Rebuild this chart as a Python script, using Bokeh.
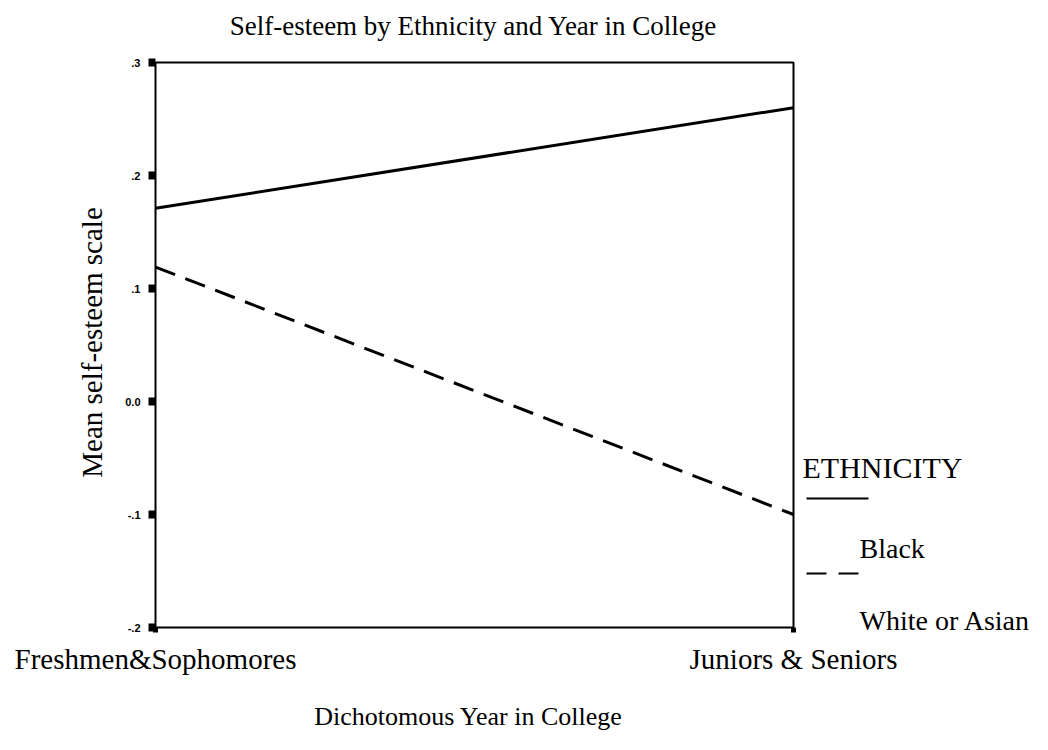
import math
from bokeh.plotting import figure
from bokeh.models import Range1d, FixedTicker, Label, Arrow, BoxAnnotation
from bokeh.embed import file_html
from bokeh.resources import INLINE

# ---- data ----
categories = ["Freshmen&Sophomores", "Juniors & Seniors"]
black = [0.171, 0.260]
white_asian = [0.119, -0.100]
y_ticks = [-0.2, -0.1, 0.0, 0.1, 0.2, 0.3]
y_tick_labels = ["-.2", "-.1", "0.0", ".1", ".2", ".3"]
series_names = ["Black", "White or Asian"]
legend_title = "ETHNICITY"
x_title = "Dichotomous Year in College"
y_title = "Mean self-esteem scale"
chart_title = "Self-esteem by Ethnicity and Year in College"

SERIF = "Liberation Serif"
SANS = "Liberation Sans"

xs = list(range(len(categories)))

# pixel helpers (layout only): the plotted box spans x 155..793, y .3 at 62 and -.2 at 627
FRAME_L, FRAME_R_BOX = 155, 793
Y0_PX, PX_PER_TENTH = 401, 113.0
W, H = 1032, 734

def px_to_x(px):
    return (px - FRAME_L) / float(FRAME_R_BOX - FRAME_L) * (len(categories) - 1)

def py_to_y(py):
    return (Y0_PX - py) / (PX_PER_TENTH * 10)

p = figure(width=W, height=H, output_backend="svg", toolbar_location=None, title=None,
           x_range=Range1d(px_to_x(0), px_to_x(W)), y_range=Range1d(py_to_y(H), py_to_y(0)),
           min_border_left=0, min_border_right=0, min_border_top=0, min_border_bottom=0,
           background_fill_color="white", border_fill_color="white")

p.outline_line_color = None
p.xgrid.visible = False
p.ygrid.visible = False

# box around the plotted area
p.add_layout(BoxAnnotation(left=0, right=len(categories) - 1, bottom=y_ticks[0], top=y_ticks[-1],
                           fill_alpha=0, line_color="black", line_alpha=1.0, line_width=2))

# y axis, drawn on the left edge of the box
ya = p.yaxis[0]
ya.fixed_location = 0
ya.ticker = FixedTicker(ticks=y_ticks)
ya.major_label_overrides = {t: l for t, l in zip(y_ticks, y_tick_labels)}
ya.major_tick_in = 0
ya.major_tick_out = 7
ya.major_tick_line_width = 8
ya.major_tick_line_color = "black"
ya.minor_tick_line_color = None
ya.axis_line_color = None
ya.major_label_text_font = SANS
ya.major_label_text_font_style = "bold"
ya.major_label_text_font_size = "11px"
ya.major_label_text_color = "black"
ya.major_label_standoff = 8

# x axis, drawn at the bottom of the box
xa = p.xaxis[0]
xa.fixed_location = y_ticks[0]
xa.ticker = FixedTicker(ticks=xs)
xa.major_label_overrides = {i: c for i, c in zip(xs, categories)}
xa.major_tick_in = 0
xa.major_tick_out = 5
xa.major_tick_line_width = 5
xa.major_tick_line_color = "black"
xa.minor_tick_line_color = None
xa.axis_line_color = None
xa.major_label_text_font = SERIF
xa.major_label_text_font_size = "29px"
xa.major_label_text_color = "black"
xa.major_label_standoff = 10

# titles
p.add_layout(Label(x=px_to_x(473), y=py_to_y(25), text=chart_title, text_align="center",
                   text_baseline="middle", text_font=SERIF, text_font_size="27px",
                   text_color="black"))
p.add_layout(Label(x=px_to_x(468), y=py_to_y(716), text=x_title, text_align="center",
                   text_baseline="middle", text_font=SERIF, text_font_size="26px",
                   text_color="black"))
p.add_layout(Label(x=px_to_x(91), y=py_to_y(342), text=y_title, text_align="center",
                   text_baseline="middle", angle=math.pi / 2, text_font=SERIF,
                   text_font_size="29px", text_color="black"))

# data lines
p.line(xs, black, line_color="black", line_width=3)
p.line(xs, white_asian, line_color="black", line_width=3, line_dash="21 11")

# custom legend (right of the box)
p.add_layout(Label(x=px_to_x(802), y=py_to_y(467), text=legend_title,
                   text_font=SERIF, text_font_size="30px", text_baseline="middle",
                   text_color="black"))
p.add_layout(Label(x=px_to_x(859), y=py_to_y(548), text=series_names[0],
                   text_font=SERIF, text_font_size="28px", text_baseline="middle",
                   text_color="black"))
p.add_layout(Label(x=px_to_x(859), y=py_to_y(620), text=series_names[1],
                   text_font=SERIF, text_font_size="28px", text_baseline="middle",
                   text_color="black"))
p.add_layout(Arrow(start=None, end=None, x_start=px_to_x(806), y_start=py_to_y(498),
                   x_end=px_to_x(868), y_end=py_to_y(498), line_width=2, line_color="black"))
p.add_layout(Arrow(start=None, end=None, x_start=px_to_x(806), y_start=py_to_y(573),
                   x_end=px_to_x(862), y_end=py_to_y(573), line_width=2, line_color="black",
                   line_dash="20 12"))

open("out.html", "w").write(file_html(p, INLINE))
